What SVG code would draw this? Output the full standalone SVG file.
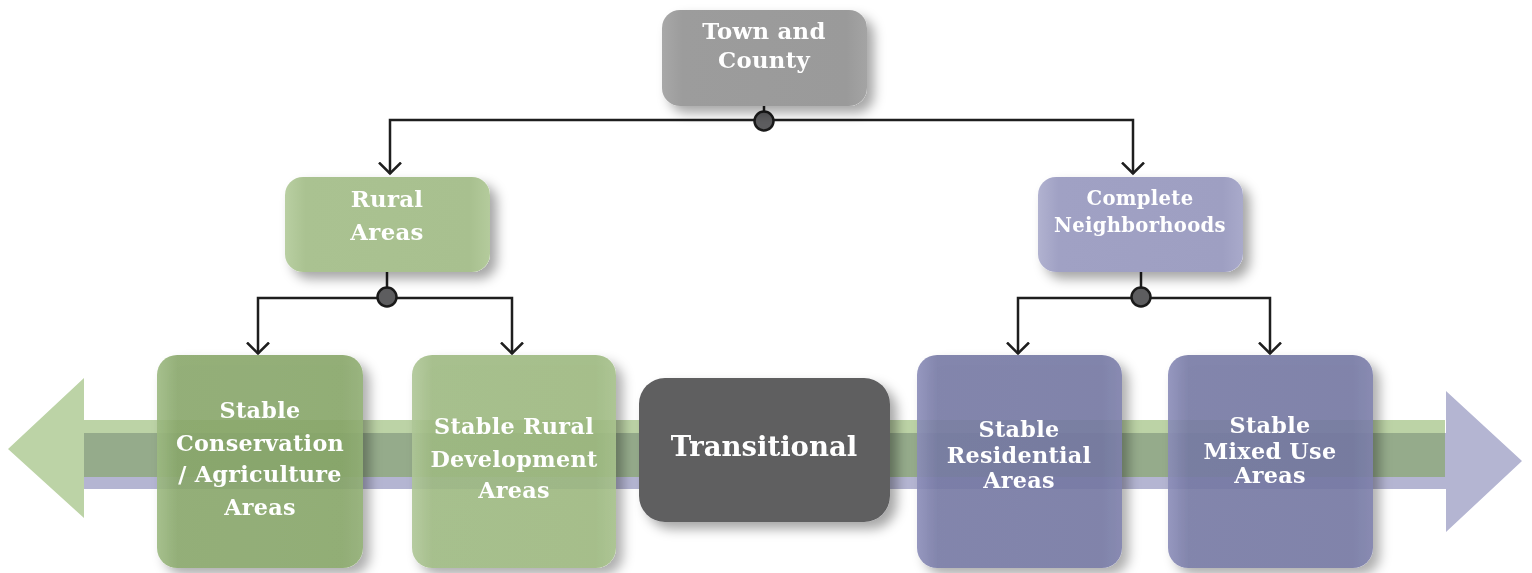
<svg xmlns="http://www.w3.org/2000/svg" width="1532" height="573" viewBox="0 0 1532 573">
<defs>
  <filter id="shadow" x="-20%" y="-20%" width="150%" height="150%">
    <feGaussianBlur in="SourceAlpha" stdDeviation="6" result="blur"/>
    <feOffset in="blur" dx="7" dy="7" result="off"/>
    <feFlood flood-color="#000" flood-opacity="0.35"/>
    <feComposite in2="off" operator="in" result="sh"/>
    <feComposite in="sh" in2="SourceAlpha" operator="out" result="shout"/>
    <feMerge><feMergeNode in="shout"/><feMergeNode in="SourceGraphic"/></feMerge>
  </filter>
  <linearGradient id="gGray" x1="0" y1="0" x2="1" y2="0"><stop offset="0" stop-color="#a8a8a8"/><stop offset="0.1" stop-color="#9c9c9c"/><stop offset="0.9" stop-color="#9a9a9a"/><stop offset="1" stop-color="#a4a4a4"/></linearGradient>
  <linearGradient id="gRural" x1="0" y1="0" x2="1" y2="0"><stop offset="0" stop-color="#b9cfa2"/><stop offset="0.1" stop-color="#aac291"/><stop offset="0.9" stop-color="#a8c08f"/><stop offset="1" stop-color="#b4cb9c"/></linearGradient>
  <linearGradient id="gComp" x1="0" y1="0" x2="1" y2="0"><stop offset="0" stop-color="#b1b2d0"/><stop offset="0.1" stop-color="#a0a1c4"/><stop offset="0.9" stop-color="#9e9fc2"/><stop offset="1" stop-color="#a9aacb"/></linearGradient>
  <linearGradient id="gCons" x1="0" y1="0" x2="1" y2="0"><stop offset="0" stop-color="#9cb981"/><stop offset="0.1" stop-color="#89a76b"/><stop offset="0.9" stop-color="#87a568"/><stop offset="1" stop-color="#90ad73"/></linearGradient>
  <linearGradient id="gDev" x1="0" y1="0" x2="1" y2="0"><stop offset="0" stop-color="#aec696"/><stop offset="0.1" stop-color="#9eb982"/><stop offset="0.9" stop-color="#9cb87f"/><stop offset="1" stop-color="#a5bf8a"/></linearGradient>
  <linearGradient id="gPurp" x1="0" y1="0" x2="1" y2="0"><stop offset="0" stop-color="#8a8cb8"/><stop offset="0.1" stop-color="#7679a4"/><stop offset="0.9" stop-color="#7477a2"/><stop offset="1" stop-color="#7c7faa"/></linearGradient>
  <marker id="arr" markerUnits="userSpaceOnUse" viewBox="0 0 14 24" refX="12.5" refY="12" markerWidth="14" markerHeight="24" orient="auto">
    <path d="M1,1 L12,12 L1,23" fill="none" stroke="#1e1e1e" stroke-width="2.5"/>
  </marker>
  <style>
    .lbl { font-family: "DejaVu Serif", "Liberation Serif", serif; font-weight: bold; fill: #ffffff; text-anchor: middle; }
    .s22 { font-size: 22.3px; letter-spacing: 0.3px; }
    .s19 { font-size: 19.6px; letter-spacing: 0.3px; }
    .top { font-size: 22.8px; letter-spacing: 0.3px; }
    .big { font-size: 27.5px; }
    .wire { fill: none; stroke: #1e1e1e; stroke-width: 2.5; }
    .dot { fill: #5d5d5f; stroke: #1a1a1a; stroke-width: 2.5; }
    .box { filter: url(#shadow); }
  </style>
</defs>
<rect width="1532" height="573" fill="#ffffff"/>

<g id="band">
  <polygon points="8,449 84,378 84,420 1445,420 1445,477 84,477 84,518" fill="#bcd3a6"/>
  <polygon points="1522,461 1446,391 1446,433 84,433 84,489 1446,489 1446,532" fill="#b4b5d2"/>
  <rect x="84" y="433" width="1361" height="44" fill="#95ab8b"/>
</g>

<g id="connectors">
  <path class="wire" d="M764,106 V120"/>
  <path class="wire" d="M764,120 H390 V174" marker-end="url(#arr)"/>
  <path class="wire" d="M764,120 H1133 V174" marker-end="url(#arr)"/>
  <circle class="dot" cx="764" cy="121" r="9.5"/>
  <path class="wire" d="M387,272 V298"/>
  <path class="wire" d="M387,298 H258 V354" marker-end="url(#arr)"/>
  <path class="wire" d="M387,298 H512 V354" marker-end="url(#arr)"/>
  <circle class="dot" cx="387" cy="297" r="9.5"/>
  <path class="wire" d="M1141,272 V298"/>
  <path class="wire" d="M1141,298 H1018 V354" marker-end="url(#arr)"/>
  <path class="wire" d="M1141,298 H1270 V354" marker-end="url(#arr)"/>
  <circle class="dot" cx="1141" cy="297" r="9.5"/>
</g>

<g id="town" class="box">
  <rect x="662" y="10" width="205" height="96" rx="18" fill="url(#gGray)"/>
  <text class="lbl top" x="764" y="39">Town and</text>
  <text class="lbl top" x="764" y="68">County</text>
</g>

<g id="rural" class="box">
  <rect x="285" y="177" width="205" height="95" rx="18" fill="url(#gRural)"/>
  <text class="lbl top" x="387" y="207">Rural</text>
  <text class="lbl top" x="387" y="240">Areas</text>
</g>

<g id="complete" class="box">
  <rect x="1038" y="177" width="205" height="95" rx="18" fill="url(#gComp)"/>
  <text class="lbl s19" x="1140" y="205">Complete</text>
  <text class="lbl s19" x="1140" y="232">Neighborhoods</text>
</g>

<g id="conservation" class="box">
  <rect x="157" y="355" width="206" height="213" rx="20" fill="url(#gCons)" fill-opacity="0.9"/>
  <text class="lbl s22" x="260" y="418">Stable</text>
  <text class="lbl s22" x="260" y="451">Conservation</text>
  <text class="lbl s22" x="260" y="482">/ Agriculture</text>
  <text class="lbl s22" x="260" y="515">Areas</text>
</g>

<g id="ruraldev" class="box">
  <rect x="412" y="355" width="204" height="213" rx="20" fill="url(#gDev)" fill-opacity="0.9"/>
  <text class="lbl s22" x="514" y="434">Stable Rural</text>
  <text class="lbl s22" x="514" y="467">Development</text>
  <text class="lbl s22" x="514" y="498">Areas</text>
</g>

<g id="transitional" class="box">
  <rect x="639" y="378" width="251" height="144" rx="26" fill="#5e5e60"/>
  <text class="lbl big" x="764" y="456">Transitional</text>
</g>

<g id="residential" class="box">
  <rect x="917" y="355" width="205" height="213" rx="20" fill="url(#gPurp)" fill-opacity="0.9"/>
  <text class="lbl s22" x="1019" y="437">Stable</text>
  <text class="lbl s22" x="1019" y="463">Residential</text>
  <text class="lbl s22" x="1019" y="488">Areas</text>
</g>

<g id="mixeduse" class="box">
  <rect x="1168" y="355" width="205" height="213" rx="20" fill="url(#gPurp)" fill-opacity="0.9"/>
  <text class="lbl s22" x="1270" y="433">Stable</text>
  <text class="lbl s22" x="1270" y="459">Mixed Use</text>
  <text class="lbl s22" x="1270" y="483">Areas</text>
</g>
</svg>
